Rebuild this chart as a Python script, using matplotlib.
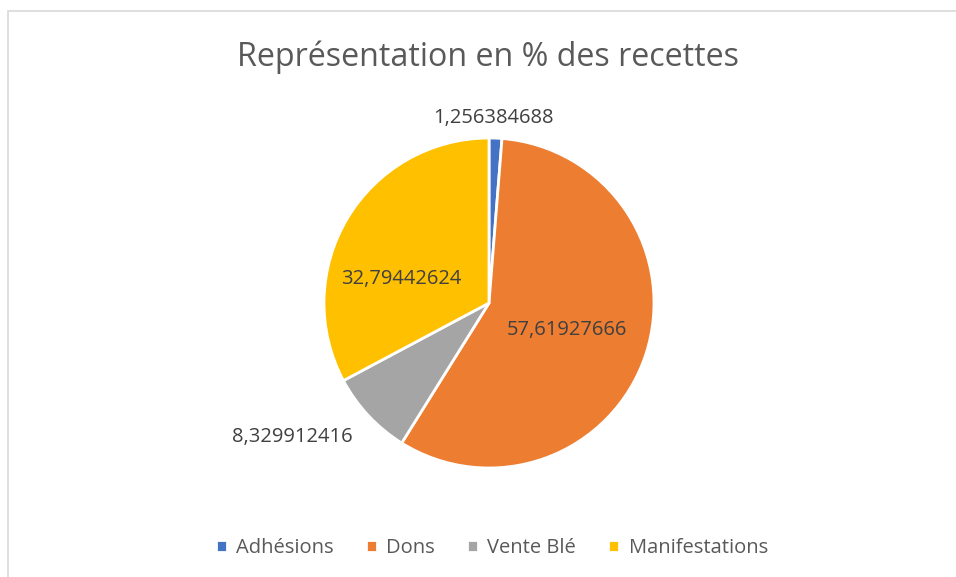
import matplotlib
matplotlib.use('Agg')
import matplotlib.pyplot as plt
from matplotlib.patches import Rectangle

categories = ["Adhésions", "Dons", "Vente Blé", "Manifestations"]
values = [1.256384688, 57.61927666, 8.329912416, 32.79442624]
labels = ["1,256384688", "57,61927666", "8,329912416", "32,79442624"]
colors = ["#4472C4", "#ED7D31", "#A5A5A5", "#FFC000"]

plt.rcParams['font.family'] = ['Open Sans', 'DejaVu Sans']
txt = "#595959"

W, H = 956, 577
fig = plt.figure(figsize=(W / 100, H / 100), dpi=100)

# chart border, runs off the right and bottom edges
fig.patches.append(Rectangle((8 / W, -0.2), 1.2, (H - 11) / H + 0.2, transform=fig.transFigure,
                             fill=False, edgecolor="#D9D9D9", linewidth=1.2))

cx, cy, r = 489, 303, 165
ax = fig.add_axes([(cx - r) / W, (H - cy - r) / H, 2 * r / W, 2 * r / H])
wedges, _ = ax.pie(values, colors=colors, startangle=90, counterclock=False,
                   wedgeprops=dict(edgecolor="white", linewidth=2))
ax.set_xlim(-1, 1)
ax.set_ylim(-1, 1)
ax.set_aspect('equal')

# data labels at pixel positions
label_pos = [(493, 118), (567, 330), (292, 437), (401, 279)]
for (x, y), s in zip(label_pos, labels):
    fig.text(x / W, 1 - y / H, s, ha='center', va='center', fontsize=14.5, color="#404040")

fig.text(488 / W, 1 - 57 / H, "Représentation en % des recettes", ha='center', va='center',
         fontsize=23.2, color=txt)

fig.legend(wedges, categories, loc='center', bbox_to_anchor=(492 / W, 1 - 548 / H),
           ncol=4, frameon=False, fontsize=14.5, labelcolor=txt, handlelength=0.55,
           handleheight=0.55, handletextpad=0.45, columnspacing=1.6)

fig.savefig("out.png", dpi=100)
